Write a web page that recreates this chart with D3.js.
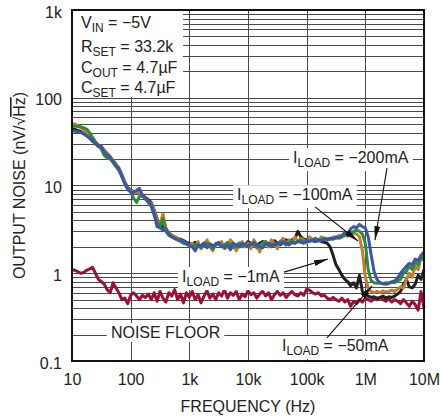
<!DOCTYPE html>
<html>
<head>
<meta charset="utf-8">
<script src="https://cdn.jsdelivr.net/npm/d3@7"></script>
<style>
  body { margin: 0; background: #fff; }
  svg { display: block; font-family: "Liberation Sans", Arial, sans-serif; }
</style>
</head>
<body>
<div id="chart"></div>
<script>
// frequency points (Hz), 20 per decade
var freqs = [
  10, 11.2, 12.6, 14.1, 15.8, 17.8, 20, 22.4, 25.1, 28.2, 31.6, 35.5, 39.8, 44.7, 50.1, 56.2, 63.1, 70.8, 79.4, 89.1,
  100, 112, 126, 141, 158, 178, 200, 224, 251, 282, 316, 355, 398, 447, 501, 562, 631, 708, 794, 891,
  1e3, 1120, 1260, 1410, 1580, 1780, 2000, 2240, 2510, 2820, 3160, 3550, 3980, 4470, 5010, 5620, 6310, 7080, 7940, 8910,
  1e4, 11200, 12600, 14100, 15800, 17800, 20000, 22400, 25100, 28200, 31600, 35500, 39800, 44700, 50100, 56200, 63100, 70800, 79400, 89100,
  1e5, 112e3, 126e3, 141e3, 158e3, 178e3, 200e3, 224e3, 251e3, 282e3, 316e3, 355e3, 398e3, 447e3, 501e3, 562e3, 631e3, 708e3, 794e3, 891e3,
  1e6, 1.12e6, 1.26e6, 1.41e6, 1.58e6, 1.78e6, 2e6, 2.24e6, 2.51e6, 2.82e6, 3.16e6, 3.55e6, 3.98e6, 4.47e6, 5.01e6, 5.62e6, 6.31e6, 7.08e6, 7.94e6, 8.91e6,
  1e7
];

// output noise, nV/rtHz
var noiseFloor = [
  1.1, 1.08, 1.04, 1.0, 1.02, 1.08, 1.12, 1.17, 1.0, 0.85, 0.8, 0.75, 0.65, 0.6, 0.78, 0.68, 0.6, 0.5, 0.52, 0.45, 0.56,
  0.6, 0.55, 0.5, 0.56, 0.53, 0.58, 0.5, 0.6, 0.48, 0.62, 0.52, 0.47, 0.6, 0.55, 0.65, 0.5, 0.58, 0.46, 0.6, 0.53,
  0.62, 0.5, 0.57, 0.46, 0.55, 0.63, 0.52, 0.58, 0.5, 0.6, 0.55, 0.65, 0.52, 0.6, 0.56, 0.62, 0.5, 0.58, 0.54, 0.63,
  0.57, 0.6, 0.52, 0.58, 0.62, 0.55, 0.6, 0.5, 0.57, 0.62, 0.56, 0.6, 0.53, 0.58, 0.62, 0.57, 0.55, 0.6, 0.56, 0.66,
  0.64, 0.6, 0.58, 0.6, 0.55, 0.56,
  0.52, 0.5, 0.53, 0.5, 0.48, 0.52, 0.47, 0.5, 0.42, 0.48, 0.45, 0.5, 0.47, 0.52, 0.5, 0.48, 0.52, 0.5, 0.53, 0.5,
  0.48, 0.51, 0.47, 0.5, 0.48, 0.45, 0.5, 0.46, 0.42, 0.48, 0.44, 0.38, 0.62, 0.4
];
var load1mA = [
  44, 43.5, 42.5, 41, 39, 37, 34.5, 32, 30, 28, 26.5, 24.5, 22.5, 20.5, 18.5, 16.5, 15, 13, 11, 9.5,
  8.8, 8.6, 8.4, 8.2, 7.8, 7.3, 6.9, 6.4, 5.3, 4.2, 3.6, 3.4, 3.1, 2.9, 2.7, 2.6, 2.5, 2.45, 2.35, 2.25, 2.2,
  2.15, 2.25, 2.1, 2.05, 2.2, 2.3, 2.15, 2.05, 2.1, 2.2, 2.1, 2.0, 2.15, 2.25, 2.1, 2.05, 2.2, 2.15, 2.1, 2.3,
  2.2, 2.1, 2.05, 2.2, 2.3, 2.15, 2.1, 2.25, 2.35, 2.2, 2.1, 2.25, 2.4, 2.3, 2.4, 2.5, 3.0, 2.6, 2.45, 2.4,
  2.5, 2.35, 2.3, 2.4, 2.3, 2.25,
  2.2, 2.0, 1.6, 1.25, 1.1, 0.95, 0.85, 0.8, 0.72, 0.78, 0.68, 0.95, 0.62, 0.58, 0.55, 0.53, 0.54, 0.52, 0.53, 0.55,
  0.52, 0.54, 0.53, 0.55, 0.58, 0.62, 0.75, 0.85, 0.7, 0.68, 0.75, 0.95, 0.85, 1.1
];
var load50mA = [
  51, 50, 48.5, 46, 43, 40, 37, 34, 31, 29, 27.5, 25.5, 23.5, 21.5, 19.5, 17.5, 16, 13.5, 11, 9.3,
  8.7, 8.5, 8.4, 8.2, 7.8, 7.2, 6.7, 6.2, 5.2, 4.1, 3.5, 4.8, 3.3, 2.9, 2.7, 2.6, 2.5, 2.4, 2.3, 2.2, 2.1,
  2.2, 2.0, 2.3, 1.9, 2.1, 2.4, 2.0, 1.8, 2.2, 2.1, 2.3, 1.9, 2.0, 2.4, 2.2, 1.8, 2.1, 2.3, 2.0, 2.2,
  1.9, 2.4, 2.1, 1.75, 2.2, 2.3, 2.0, 2.4, 2.2, 1.9, 2.3, 2.5, 2.1, 2.4, 2.2, 2.6, 2.3, 2.5, 2.4, 2.2,
  2.6, 2.4, 2.5, 2.3, 2.6, 2.5,
  2.5, 2.4, 2.6, 2.5, 2.7, 2.6, 2.7, 2.8, 2.7, 2.9, 2.8, 2.6, 1.8, 0.9, 0.68, 0.62, 0.6, 0.62, 0.6, 0.63,
  0.61, 0.62, 0.64, 0.62, 0.66, 0.7, 0.68, 0.85, 1.0, 0.9, 1.2, 1.1, 1.5, 1.4
];
var load100mA = [
  47, 47.5, 47, 46.5, 45.5, 44, 40, 35.5, 31.5, 28.5, 26, 22, 20.5, 20, 18.5, 16.5, 15, 12.5, 10.5, 9.3,
  8.6, 7.2, 6.4, 7.5, 7.6, 7.0, 6.4, 5.8, 4.6, 3.8, 3.4, 4.2, 3.0, 2.7, 2.6, 2.5, 2.4, 2.3, 2.2, 2.15, 2.05,
  2.0, 2.15, 2.05, 1.95, 2.1, 2.2, 2.05, 1.9, 2.1, 2.2, 2.0, 2.1, 2.25, 2.05, 1.95, 2.1, 2.2, 2.0, 2.15, 2.05,
  2.2, 2.1, 1.95, 2.1, 2.2, 2.3, 2.1, 2.0, 2.2, 2.15, 2.3, 2.2, 2.1, 2.25, 2.35, 2.2, 2.3, 2.4, 2.25, 2.35,
  2.3, 2.4, 2.5, 2.35, 2.45, 2.5,
  2.4, 2.5, 2.45, 2.55, 2.5, 2.6, 2.7, 2.65, 2.8, 3.0, 3.1, 3.0, 2.8, 2.2, 1.1, 0.82, 0.78, 0.77, 0.78, 0.76,
  0.78, 0.77, 0.79, 0.78, 0.82, 0.85, 1.0, 1.05, 1.2, 1.1, 1.35, 1.25, 1.55, 1.45
];
var load200mA = [
  42, 41.5, 41, 40, 39, 37, 35, 32.5, 30, 28.5, 28, 24, 22.5, 21, 19, 17, 15.5, 13, 10.5, 9,
  8.4, 8.3, 8.8, 9.3, 7.8, 7.1, 6.6, 5.9, 4.8, 3.4, 3.3, 3.1, 3.2, 2.8, 2.6, 2.5, 2.4, 2.4, 2.3, 2.2, 2.1,
  2.0, 1.8, 2.1, 2.05, 2.2, 1.95, 2.1, 2.0, 2.15, 2.25, 2.05, 1.95, 2.1, 1.85, 2.2, 2.05, 2.0, 2.2, 2.1, 2.0,
  2.15, 2.25, 2.1, 2.0, 1.95, 2.15, 2.2, 2.05, 2.1, 2.2, 2.15, 2.3, 2.2, 2.1, 2.25, 2.2, 2.3, 2.25, 2.2, 2.35,
  2.3, 2.4, 2.3, 2.4, 2.35, 2.45,
  2.4, 2.5, 2.45, 2.6, 2.55, 2.7, 2.9, 2.8, 3.2, 3.4, 3.3, 3.6, 3.4, 3.3, 2.6, 1.6, 1.05, 0.85, 0.78, 0.76,
  0.75, 0.77, 0.8, 0.82, 0.88, 1.0, 1.1, 1.2, 1.3, 1.25, 1.45, 1.4, 1.6, 1.75
];

var xTicks = [10, 100, 1e3, 1e4, 1e5, 1e6, 1e7];
var xTickLabels = ['10', '100', '1k', '10k', '100k', '1M', '10M'];
var yTicks = [0.1, 1, 10, 100, 1000];
var yTickLabels = ['0.1', '1', '10', '100', '1k'];

var series = [
  {key: 'floor', color: '#9b1034', values: noiseFloor},
  {key: '1mA', color: '#231f20', values: load1mA},
  {key: '50mA', color: '#c47d2c', values: load50mA},
  {key: '100mA', color: '#2f8a3f', values: load100mA},
  {key: '200mA', color: '#3a56a8', values: load200mA}
];

var width = 440, height = 419;
var margin = {top: 10, right: 16, bottom: 58, left: 72};

var x = d3.scaleLog().domain([10, 1e7]).range([margin.left, width - margin.right]);
var y = d3.scaleLog().domain([0.1, 1000]).range([height - margin.bottom, margin.top]);

var svg = d3.select('#chart').append('svg')
  .attr('width', width)
  .attr('height', height);

var defs = svg.append('defs');
defs.append('marker')
    .attr('id', 'arrow')
    .attr('markerUnits', 'userSpaceOnUse')
    .attr('markerWidth', 14).attr('markerHeight', 6)
    .attr('refX', 14).attr('refY', 3)
    .attr('orient', 'auto')
  .append('path')
    .attr('d', 'M0,0 L14,3 L0,6 Z')
    .attr('fill', '#111');

// grid
var grid = svg.append('g').attr('shape-rendering', 'crispEdges')
  .attr('stroke', '#4a4a4a').attr('stroke-width', 1);

grid.selectAll('.hgrid').data(y.ticks()).enter().append('line')
  .attr('class', 'hgrid')
  .attr('x1', x.range()[0]).attr('x2', x.range()[1])
  .attr('y1', function(d) { return Math.round(y(d)); })
  .attr('y2', function(d) { return Math.round(y(d)); });

grid.selectAll('.vgrid').data(xTicks.slice(1, -1)).enter().append('line')
  .attr('class', 'vgrid')
  .attr('x1', function(d) { return Math.round(x(d)); })
  .attr('x2', function(d) { return Math.round(x(d)); })
  .attr('y1', y.range()[1]).attr('y2', y.range()[0]);

// curves
var line = d3.line()
  .x(function(d) { return x(d.f); })
  .y(function(d) { return y(d.v); });

svg.append('g').selectAll('path').data(series).enter().append('path')
  .attr('fill', 'none')
  .attr('stroke', function(d) { return d.color; })
  .attr('stroke-width', 3)
  .attr('stroke-linejoin', 'round')
  .attr('d', function(s) {
    return line(s.values.map(function(v, i) { return {f: freqs[i], v: v}; }));
  });

// frame
svg.append('rect')
  .attr('x', x.range()[0]).attr('y', y.range()[1])
  .attr('width', x.range()[1] - x.range()[0])
  .attr('height', y.range()[0] - y.range()[1])
  .attr('fill', 'none').attr('stroke', '#111').attr('stroke-width', 2);

// axes
var xAxis = d3.axisBottom(x).tickValues(xTicks)
  .tickFormat(function(d, i) { return xTickLabels[i]; })
  .tickSize(0).tickPadding(12.5);
svg.append('g')
  .attr('transform', 'translate(0,' + y.range()[0] + ')')
  .call(xAxis)
  .call(function(g) { g.select('.domain').remove(); })
  .attr('font-family', null).attr('font-size', 16)
  .selectAll('text').attr('fill', '#222');

var yAxis = d3.axisLeft(y).tickValues(yTicks)
  .tickFormat(function(d, i) { return yTickLabels[i]; })
  .tickSize(0).tickPadding(10);
svg.append('g')
  .attr('transform', 'translate(' + x.range()[0] + ',0)')
  .call(yAxis)
  .call(function(g) { g.select('.domain').remove(); })
  .attr('font-family', null).attr('font-size', 16)
  .selectAll('text').attr('fill', '#222').attr('dy', '0.44em');

// axis titles
svg.append('text')
  .attr('x', (x.range()[0] + x.range()[1]) / 2).attr('y', 412)
  .attr('text-anchor', 'middle').attr('font-size', 16).attr('fill', '#222')
  .text('FREQUENCY (Hz)');

var yt = svg.append('text')
  .attr('transform', 'translate(25,' + (y.range()[0] + y.range()[1]) / 2 + ')rotate(-90)')
  .attr('text-anchor', 'middle').attr('font-size', 16).attr('fill', '#222');
yt.append('tspan').text('OUTPUT NOISE (nV/√');
yt.append('tspan').style('text-decoration', 'overline').text('Hz');
yt.append('tspan').text(')');

// conditions box
var cond = svg.append('g');
cond.append('rect')
  .attr('x', x.range()[0] + 1).attr('y', y.range()[1] + 1)
  .attr('width', 110).attr('height', 86)
  .attr('fill', '#fff');

var condLines = [['V', 'IN', ' = −5V'], ['R', 'SET', ' = 33.2k'], ['C', 'OUT', ' = 4.7µF'], ['C', 'SET', ' = 4.7µF']];
var condBase = [28, 52, 73, 93];
condLines.forEach(function(c, i) {
  subText(cond, 81, condBase[i], c[0], c[1], c[2]);
});

function subText(g, px, py, main, sub, rest) {
  var t = g.append('text').attr('x', px).attr('y', py)
    .attr('font-size', 16).attr('fill', '#222');
  t.append('tspan').text(main);
  t.append('tspan').attr('font-size', 12).attr('dy', 4).text(sub);
  t.append('tspan').attr('dy', -4).text(rest);
  return t;
}

// annotations (data coordinates)
var notes = svg.append('g');

function note(f, v, main, sub, rest) {
  var g = notes.append('g');
  var t = subText(g, x(f), y(v), main, sub, rest);
  var b = t.node().getBBox();
  g.insert('rect', 'text')
    .attr('x', b.x - 4).attr('y', b.y - 1)
    .attr('width', b.width + 8).attr('height', b.height + 2)
    .attr('fill', '#fff');
}

function arrow(f1, v1, f2, v2) {
  notes.append('line')
    .attr('x1', x(f1)).attr('y1', y(v1))
    .attr('x2', x(f2)).attr('y2', y(v2))
    .attr('stroke', '#111').attr('stroke-width', 1.1)
    .attr('marker-end', 'url(#arrow)');
}

note(58.5e3, 18, 'I', 'LOAD', ' = −200mA');
note(6.5e3, 6.8, 'I', 'LOAD', ' = −100mA');
note(750, 0.795, 'I', 'LOAD', ' = −1mA');
note(46, 0.183, 'NOISE FLOOR', '', '');
note(38e3, 0.13, 'I', 'LOAD', ' = −50mA');

arrow(2.34e6, 15.8, 1.46e6, 2.39);
arrow(139e3, 5.7, 750e3, 2.33);
arrow(41e3, 1.03, 231e3, 1.45);
arrow(222e3, 0.183, 1.3e6, 0.716);
</script>
</body>
</html>
